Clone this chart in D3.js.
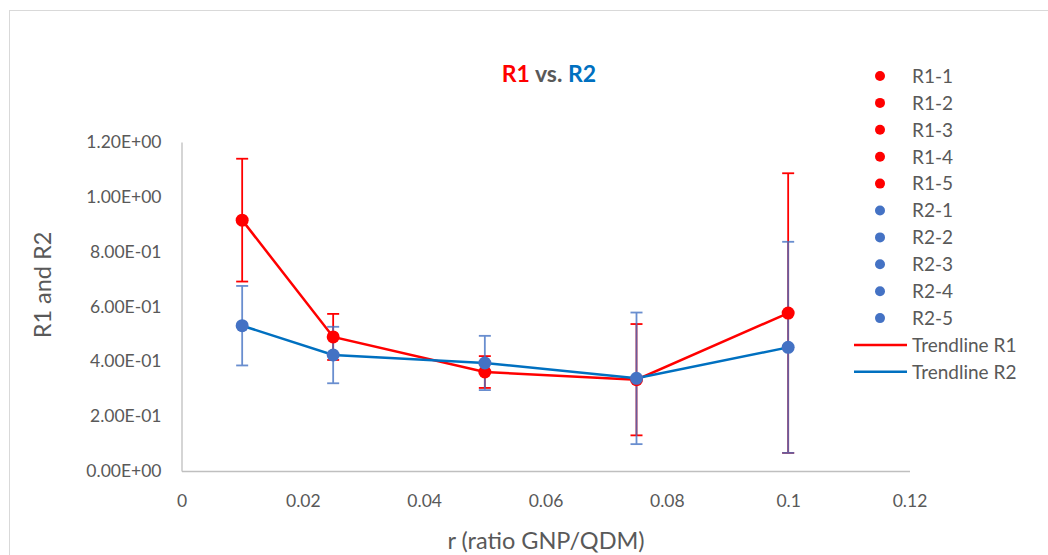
<!DOCTYPE html>
<meta charset="utf-8">
<style>
  body { margin: 0; background: #fff; }
  text { font-family: Lato, "Open Sans", sans-serif; fill: #595959; }
</style>
<body>
<script src="https://d3js.org/d3.v7.min.js"></script>
<script>
// ratio GNP/QDM
var ratios = [0.01, 0.025, 0.05, 0.075, 0.1];
// R1 values and error bar half-widths
var r1 = [0.915, 0.489, 0.361, 0.333, 0.576];
var r1Err = [0.224, 0.084, 0.058, 0.203, 0.51];
// R2 values and error bar half-widths
var r2 = [0.530, 0.423, 0.394, 0.338, 0.451];
var r2Err = [0.145, 0.103, 0.099, 0.240, 0.385];
var yTicks = [0, 0.2, 0.4, 0.6, 0.8, 1.0, 1.2];
var xTicks = [0, 0.02, 0.04, 0.06, 0.08, 0.1, 0.12];
var legendNames = ["R1-1", "R1-2", "R1-3", "R1-4", "R1-5", "R2-1", "R2-2", "R2-3", "R2-4", "R2-5"];

var red = "#ff0000", blueMark = "#4472c4", blueLine = "#0070c0";

var svg = d3.select("body").append("svg")
    .attr("width", 1048)
    .attr("height", 555);

// chart frame
svg.append("rect")
    .attr("x", 9.5).attr("y", 10.5)
    .attr("width", 1100).attr("height", 600)
    .attr("fill", "none").attr("stroke", "#d9d9d9");

var x = d3.scaleLinear().domain([0, 0.12]).range([181.5, 909.5]);
var y = d3.scaleLinear().domain([0, 1.2]).range([471, 142]);

// y axis
var yAxis = svg.append("g")
    .attr("transform", "translate(" + x(0) + ",0)")
    .call(d3.axisLeft(y).tickValues(yTicks).tickSize(0).tickPadding(20)
      .tickFormat(function(v) {
        var s = v.toExponential(2).toUpperCase();
        return s.replace(/E([+-])(\d)$/, "E$10$2");
      }));
yAxis.select(".domain").attr("stroke", "#bfbfbf").attr("stroke-width", 1.3);
yAxis.selectAll("text").attr("font-size", 17.5).style("font-family", "Lato").attr("fill", "#595959");

// x axis
var xAxis = svg.append("g")
    .attr("transform", "translate(0," + y(0) + ")")
    .call(d3.axisBottom(x).tickValues(xTicks).tickSize(0).tickPadding(24)
      .tickFormat(function(v) { return String(+v.toFixed(2)); }));
xAxis.select(".domain").attr("stroke", "#bfbfbf").attr("stroke-width", 1.3);
xAxis.selectAll("text").attr("font-size", 17.5).style("font-family", "Lato").attr("fill", "#595959");

// error bars
function errorBars(vals, errs, color, opacity) {
  var g = svg.append("g").attr("stroke", color).attr("stroke-width", 1.8).attr("opacity", opacity);
  ratios.forEach(function(r, i) {
    var cx = x(r), top = y(vals[i] + errs[i]), bot = y(vals[i] - errs[i]);
    g.append("line").attr("x1", cx).attr("x2", cx).attr("y1", top).attr("y2", bot);
    g.append("line").attr("x1", cx - 6).attr("x2", cx + 6).attr("y1", top).attr("y2", top);
    g.append("line").attr("x1", cx - 6).attr("x2", cx + 6).attr("y1", bot).attr("y2", bot);
  });
}
errorBars(r1, r1Err, red, 1);
errorBars(r2, r2Err, blueMark, 0.8);

// trendlines
var line = d3.line().x(function(d) { return x(d[0]); }).y(function(d) { return y(d[1]); });
svg.append("path")
    .attr("d", line(ratios.map(function(r, i) { return [r, r1[i]]; })))
    .attr("fill", "none").attr("stroke", red).attr("stroke-width", 2.5);
svg.append("path")
    .attr("d", line(ratios.map(function(r, i) { return [r, r2[i]]; })))
    .attr("fill", "none").attr("stroke", blueLine).attr("stroke-width", 2.5);

// markers
svg.selectAll(".m1").data(r1).enter().append("circle")
    .attr("cx", function(d, i) { return x(ratios[i]); })
    .attr("cy", function(d) { return y(d); })
    .attr("r", 6.5).attr("fill", red);
svg.selectAll(".m2").data(r2).enter().append("circle")
    .attr("cx", function(d, i) { return x(ratios[i]); })
    .attr("cy", function(d) { return y(d); })
    .attr("r", 6.5).attr("fill", blueMark);

// title
var title = svg.append("text")
    .attr("x", 549).attr("y", 82)
    .attr("text-anchor", "middle")
    .attr("font-size", 23).attr("font-weight", "bold");
title.append("tspan").text("R1").style("fill", red);
title.append("tspan").text(" vs. ").style("fill", "#595959");
title.append("tspan").text("R2").style("fill", blueLine);

// axis titles
svg.append("text")
    .attr("transform", "translate(51,285) rotate(-90)")
    .attr("text-anchor", "middle")
    .attr("font-size", 23.5)
    .text("R1 and R2");
svg.append("text")
    .attr("x", 546).attr("y", 549)
    .attr("text-anchor", "middle")
    .attr("font-size", 23.5)
    .text("r (ratio GNP/QDM)");

// legend
var legend = svg.append("g");
legendNames.forEach(function(name, i) {
  var ly = 76 + i * 26.9;
  legend.append("circle").attr("cx", 880).attr("cy", ly).attr("r", 5)
    .attr("fill", i < 5 ? red : blueMark);
  legend.append("text").attr("x", 912).attr("y", ly + 6.8).attr("font-size", 19).text(name);
});
[["Trendline R1", red], ["Trendline R2", blueLine]].forEach(function(d, i) {
  var ly = 345 + i * 26.7;
  legend.append("line").attr("x1", 854).attr("x2", 907).attr("y1", ly).attr("y2", ly)
    .attr("stroke", d[1]).attr("stroke-width", 2.5);
  legend.append("text").attr("x", 912).attr("y", ly + 6.8).attr("font-size", 19).text(d[0]);
});
</script>
</body>
